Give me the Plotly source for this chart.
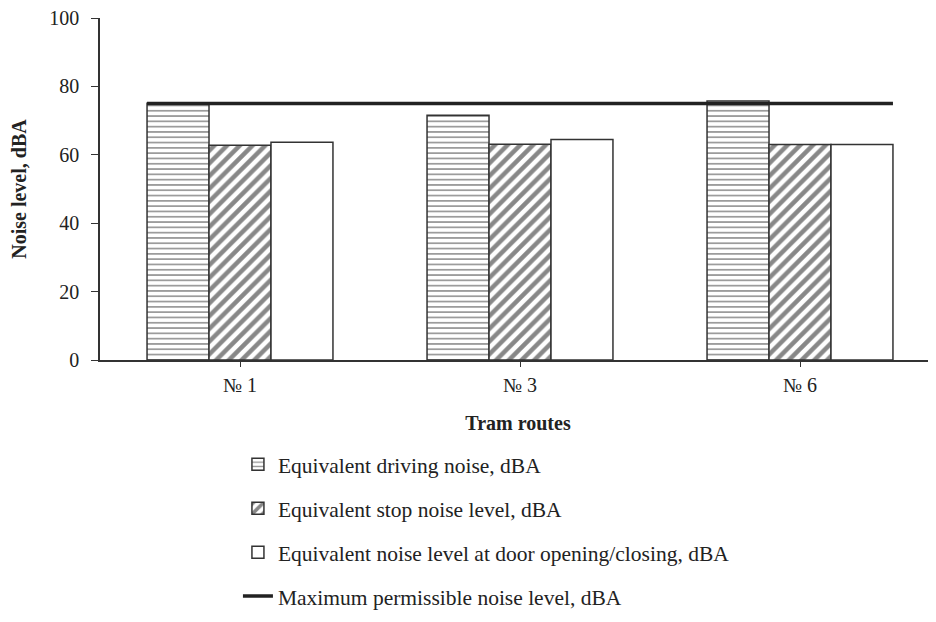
import plotly.graph_objects as go

routes = ["№ 1", "№ 3", "№ 6"]
driving = [75.1, 71.6, 75.7]
stop = [62.8, 63.1, 63.0]
door = [63.7, 64.5, 63.0]
max_permissible = 75.0

names = [
    "Equivalent driving noise, dBA",
    "Equivalent stop noise level, dBA",
    "Equivalent noise level at door opening/closing, dBA",
    "Maximum permissible noise level, dBA",
]

FONT = "Liberation Serif"
INK = "#222222"
BARGAP = 0.336

xpos = list(range(len(routes)))

fig = go.Figure()
fig.add_trace(go.Bar(
    x=xpos, y=driving, name=names[0], legendgroup="a",
    marker=dict(color="white", line=dict(color="#333333", width=1.5),
                pattern=dict(shape="-", size=5.3, solidity=0.3, fgcolor="#222222", bgcolor="white")),
))
fig.add_trace(go.Bar(
    x=xpos, y=stop, name=names[1], legendgroup="b",
    marker=dict(color="white", line=dict(color="#333333", width=1.5),
                pattern=dict(shape="/", size=9, solidity=0.5, fgcolor="#111111", bgcolor="white")),
))
fig.add_trace(go.Bar(
    x=xpos, y=door, name=names[2], legendgroup="c",
    marker=dict(color="white", line=dict(color="#333333", width=1.5)),
))
half = (1 - BARGAP) / 2
fig.add_trace(go.Scatter(
    x=[xpos[0] - half, xpos[-1] + half], y=[max_permissible] * 2,
    mode="lines", name=names[3], legendgroup="d",
    line=dict(color=INK, width=3.5),
))

# page body has an 8px margin: figure is shifted by (8, 8)
fig.update_layout(
    width=928, height=614,
    margin=dict(l=92, r=0, t=10, b=262),
    paper_bgcolor="white", plot_bgcolor="white",
    barmode="group", bargap=BARGAP, bargroupgap=0,
    font=dict(family=FONT, size=20, color=INK),
    showlegend=True,
    legend=dict(
        x=0.165, y=-0.245, xanchor="left", yanchor="top",
        font=dict(family=FONT, size=21.5, color=INK),
        tracegroupgap=13, itemwidth=30, bgcolor="rgba(0,0,0,0)",
    ),
    xaxis=dict(
        range=[-0.5, 2.4857], tickmode="array", tickvals=xpos, ticktext=routes,
        showline=True, linecolor="#333333", linewidth=1.5,
        ticks="outside", ticklen=5, tickcolor="#333333",
        showgrid=False, zeroline=False, automargin=False,
        title=dict(text="<b>Tram routes</b>", font=dict(family=FONT, size=20, color=INK), standoff=21),
        tickfont=dict(family=FONT, size=20, color=INK),
        ticklabelstandoff=1, ticklabeloverflow="allow",
    ),
    yaxis=dict(
        range=[0, 100], dtick=20,
        showline=True, linecolor="#333333", linewidth=1.5,
        ticks="outside", ticklen=7, tickcolor="#333333",
        showgrid=False, zeroline=False, automargin=False,
        title=dict(text="<b>Noise level, dBA</b>", font=dict(family=FONT, size=20, color=INK), standoff=31),
        tickfont=dict(family=FONT, size=20, color=INK),
        ticklabelstandoff=8, ticklabeloverflow="allow",
    ),
)

fig.write_html("out.html")
